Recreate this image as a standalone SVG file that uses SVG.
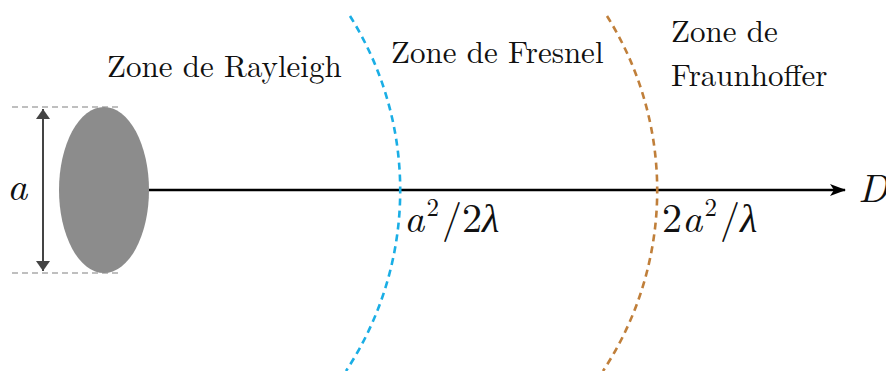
<svg xmlns="http://www.w3.org/2000/svg" width="886" height="371" viewBox="0 0 886 371">
<style>
.lbl{font-size:31px;fill:#111}
.math{font-size:40px;fill:#111}
.it{font-style:italic}
.sup{font-size:25px}
.guide{stroke:#aaa;stroke-width:1.5;stroke-dasharray:6 4;fill:none}
.zone{fill:none;stroke-width:2.6;stroke-dasharray:7 5}
</style>
<defs>
<marker id="axh" viewBox="0 0 16 12" refX="15" refY="6" markerWidth="16" markerHeight="12" orient="auto" markerUnits="userSpaceOnUse">
<path d="M0,0 L16,6 L0,12 L4,6 z" fill="#000"/>
</marker>
<marker id="dh" viewBox="0 0 10 14" refX="10" refY="7" markerWidth="10" markerHeight="14" orient="auto-start-reverse" markerUnits="userSpaceOnUse">
<path d="M0,0 L10,7 L0,14 z" fill="#444"/>
</marker>
</defs>
<g id="aperture">
<line class="guide" x1="12" y1="107" x2="118" y2="107"/>
<line class="guide" x1="12" y1="273" x2="118" y2="273"/>
<ellipse cx="104" cy="190" rx="45" ry="83" fill="#8c8c8c"/>
<text class="math it" x="7" y="200" font-size="48" style="font-family:'Latin Modern Roman','Liberation Serif',serif">a</text>
</g>
<g id="connectors">
<line x1="43" y1="109" x2="43" y2="271" stroke="#444" stroke-width="2" marker-start="url(#dh)" marker-end="url(#dh)"/>
<line x1="149" y1="190" x2="845" y2="190" stroke="#000" stroke-width="2.6" marker-end="url(#axh)"/>
</g>
<g id="fresnel-boundary">
<path class="zone" stroke="#1aaee5" d="M350,16 A328,328 0 0 1 346,371"/>
<text class="math" x="404" y="232" style="font-family:'Latin Modern Roman','Liberation Serif',serif"><tspan class="it">a</tspan><tspan class="sup" dx="2" dy="-16">2</tspan><tspan dx="3" dy="16">/2</tspan><tspan class="it">λ</tspan></text>
</g>
<g id="fraunhofer-boundary">
<path class="zone" stroke="#c07f3a" d="M607,16 A328,328 0 0 1 603,371"/>
<text class="math" x="662" y="232" style="font-family:'Latin Modern Roman','Liberation Serif',serif">2<tspan class="it">a</tspan><tspan class="sup" dx="2" dy="-16">2</tspan><tspan dx="3" dy="16">/</tspan><tspan class="it">λ</tspan></text>
</g>
<g id="labels">
<text class="lbl" x="107" y="77" style="font-family:'Latin Modern Roman','Liberation Serif',serif">Zone de Rayleigh</text>
<text class="lbl" x="391" y="63" style="font-family:'Latin Modern Roman','Liberation Serif',serif">Zone de Fresnel</text>
<text class="lbl" x="671" y="42" style="font-family:'Latin Modern Roman','Liberation Serif',serif">Zone de</text>
<text class="lbl" x="671" y="86" style="font-family:'Latin Modern Roman','Liberation Serif',serif">Fraunhoffer</text>
<text class="math it" x="858" y="202" font-size="36" style="font-family:'Latin Modern Roman','Liberation Serif',serif">D</text>
</g>
</svg>
